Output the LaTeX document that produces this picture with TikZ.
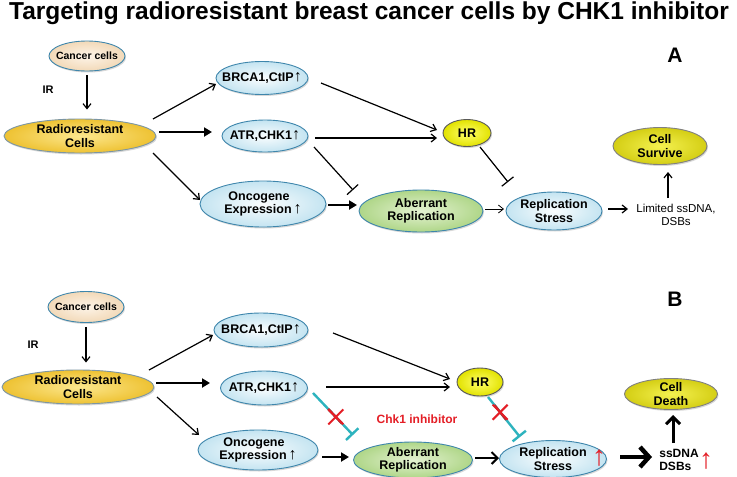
\documentclass[tikz,border=0pt]{standalone}
\usepackage{fontspec}
\setmainfont{Liberation Sans}
\usetikzlibrary{shapes.geometric,shapes.misc,arrows.meta,calc,shadows}

\definecolor{rimblue}{HTML}{3E86AC}
\definecolor{tealbar}{HTML}{2DB3BE}
\definecolor{xred}{HTML}{E41E26}
\definecolor{darkred}{HTML}{B8282C}
\definecolor{peachin}{HTML}{FDF4E8}
\definecolor{peachout}{HTML}{F2D9B8}
\definecolor{goldin}{HTML}{FCE78E}
\definecolor{goldout}{HTML}{EEC232}
\definecolor{palein}{HTML}{FAFDFE}
\definecolor{paleout}{HTML}{C4E4F1}
\definecolor{leafin}{HTML}{E4F2D2}
\definecolor{leafout}{HTML}{AFD688}
\definecolor{hrin}{HTML}{FFFF6A}
\definecolor{hrout}{HTML}{E2E200}
\definecolor{fatein}{HTML}{F4F150}
\definecolor{fateout}{HTML}{D4CE14}

\newcommand{\upmark}{{\mdseries\fontsize{16}{14}\selectfont ↑}}

\tikzset{
  oval/.style={ellipse, draw=rimblue, line width=0.9pt, inner xsep=-25pt, inner ysep=-10pt, align=center,
    font=\bfseries\fontsize{12.5}{13.5}\selectfont,
    drop shadow={shadow xshift=1pt, shadow yshift=-1.5pt, opacity=0.3}},
  ovalsize/.style 2 args={minimum width=#1pt, minimum height=#2pt},
  peach/.style={oval, inner color=peachin, outer color=peachout, font=\bfseries\fontsize{10.5}{12}\selectfont},
  gold/.style={oval, draw=rimblue!60!black!60, inner color=goldin, outer color=goldout},
  pale/.style={oval, inner color=palein, outer color=paleout},
  leaf/.style={oval, inner color=leafin, outer color=leafout},
  hrnode/.style={oval, draw=black!65, inner color=hrin, outer color=hrout},
  fate/.style={oval, draw=black!50, inner color=fatein, outer color=fateout},
  arr/.style={-{Straight Barb[length=5pt,width=8pt]}, line width=1.2pt},
  thinarr/.style={-{Straight Barb[length=5pt,width=8pt]}, line width=0.8pt},
  thickarr/.style={-{Triangle[length=8pt,width=9pt]}, line width=2.4pt},
  midarr/.style={-{Straight Barb[length=6pt,width=12pt]}, line width=2pt},
  fatearr/.style={-{Straight Barb[length=7pt,width=14pt]}, line width=3pt},
  blockarr/.style={-{Straight Barb[length=9pt,width=20pt]}, line width=4.5pt},
  tee/.style={-{Bar[width=15pt]}, line width=1.2pt},
  teeB/.style={-{Bar[width=17pt]}, draw=tealbar, line width=2.4pt},
  xmark/.style={cross out, draw=xred, line width=2pt, minimum size=13pt, inner sep=0pt},
  redup/.style={text=xred, font=\bfseries\fontsize{28}{28}\selectfont, inner sep=0pt},
  lbl/.style={font=\bfseries\fontsize{11}{11}\selectfont}
}

\begin{document}
\begin{tikzpicture}[x=1pt, y=-1pt]
\fill[white] (0,0) rectangle (737,477);
\useasboundingbox (0,0) rectangle (737,477);
\node[anchor=base, font=\bfseries\fontsize{24.5}{26}\selectfont] (title) at (369,19) {Targeting radioresistant breast cancer cells by CHK1 inhibitor};

% panel A
\node[peach, ovalsize={76}{30}] (canA) at (87,56) {Cancer cells};
\node[lbl] (irA) at (48,90) {IR};
\node[gold, ovalsize={152}{34}] (radA) at (80,136) {Radioresistant\\Cells};
\node[pale, ovalsize={92}{33}] (brcaA) at (262,78) {BRCA1,CtIP\upmark};
\node[pale, ovalsize={86}{32}] (atrA) at (265,136) {ATR,CHK1\upmark};
\node[pale, ovalsize={126}{46}] (oncA) at (263,204) {Oncogene\phantom{\upmark}\\Expression\,\upmark};
\node[leaf, ovalsize={124}{42}] (abA) at (421,211) {Aberrant\\Replication};
\node[pale, ovalsize={96}{38}] (rsA) at (554,211) {Replication\\Stress};
\node[hrnode, ovalsize={48}{27}] (hrA) at (467,133) {HR};
\node[fate, ovalsize={94}{37}] (survA) at (660,146) {Cell\\Survive};
\node[align=center, font=\fontsize{11.5}{13.5}\selectfont] (ssA) at (676,215) {Limited ssDNA,\\DSBs};
\node[font=\bfseries\fontsize{21}{21}\selectfont] (labA) at (675,55) {A};

\draw[arr, shorten <=4pt, shorten >=9pt] (canA.south) -- (canA.south |- radA.north); % IR
\draw[arr] ($(radA)+(73,-17)$) -- ($(brcaA)+(-46,6)$);
\draw[thickarr] ($(radA)+(79,-4)$) -- ($(atrA)+(-53,-4)$);
\draw[arr] ($(radA)+(73,17)$) -- ($(oncA)+(-63,-4)$);
\draw[arr] ($(brcaA)+(59,5)$) -- ($(hrA)+(-30,-3)$);
\draw[arr] ($(atrA)+(50,2)$) -- ($(hrA)+(-30,5)$);
\draw[tee] ($(atrA)+(49,11)$) -- ($(abA)+(-68,-21)$); % block
\draw[tee] ($(hrA)+(13,14)$) -- ($(rsA)+(-46,-29)$); % block
\draw[thickarr] ($(oncA)+(65,1)$) -- ($(abA)+(-64,-6)$);
\draw[thinarr] ($(abA)+(64,-2)$) -- ($(rsA)+(-50,-2)$);
\draw[arr] ($(rsA)+(54,-2)$) -- ($(ssA)+(-48,-6)$);
\draw[arr] ($(ssA)+(-8,-17)$) -- ($(survA)+(8,26)$);

% panel B
\node[peach, ovalsize={76}{31}] (canB) at (86,307) {Cancer cells};
\node[lbl] (irB) at (33,345) {IR};
\node[gold, ovalsize={152}{34}] (radB) at (78,387) {Radioresistant\\Cells};
\node[pale, ovalsize={94}{34}] (brcaB) at (261,330) {BRCA1,CtIP\upmark};
\node[pale, ovalsize={87}{34}] (atrB) at (264,388) {ATR,CHK1\upmark};
\node[pale, ovalsize={120}{40}] (oncB) at (258,450) {Oncogene\phantom{\upmark}\\Expression\,\upmark};
\node[leaf, ovalsize={119}{36}] (abB) at (413,460) {Aberrant\\Replication};
\node[pale, ovalsize={107}{37}] (rsB) at (553,459) {Replication\\Stress};
\node[redup] (rsUp) at (599,458) {↑};
\node[hrnode, ovalsize={46}{28}] (hrB) at (480,382) {HR};
\node[fate, ovalsize={93}{31}] (deathB) at (671,394) {Cell\\Death};
\node[align=left, font=\bfseries\fontsize{12}{13.5}\selectfont] (ssB) at (679,460) {ssDNA\\DSBs};
\node[redup] (ssUp) at (706,461) {↑};
\node[font=\bfseries\fontsize{21}{21}\selectfont] (labB) at (675,299) {B};
\node[text=xred, font=\bfseries\fontsize{12}{12}\selectfont] (inhib) at (417,419) {Chk1 inhibitor};

\draw[arr, shorten <=4pt, shorten >=7pt] (canB.south) -- (canB.south |- radB.north); % IR
\draw[arr] ($(radB)+(71,-17)$) -- ($(brcaB)+(-48,5)$);
\draw[thickarr] ($(radB)+(78,-4)$) -- ($(atrB)+(-54,-5)$);
\draw[arr] ($(radB)+(79,10)$) -- ($(oncB)+(-59,-15)$);
\draw[arr] ($(brcaB)+(72,3)$) -- ($(hrB)+(-30,-3)$);
\draw[arr] ($(atrB)+(62,-1)$) -- ($(hrB)+(-30,5)$);
\draw[teeB] ($(atrB)+(49,5)$) -- ($(abB)+(-60,-25)$) coordinate[pos=.38] (atrX1) coordinate[pos=.72] (atrX2) coordinate[pos=.57] (atrXc); % inhibited
\draw[darkred, line width=2.4pt] (atrX1) -- (atrX2);
\node[xmark] (atrX) at (atrXc) {};
\draw[teeB] ($(hrB)+(8,15)$) -- ($(rsB)+(-33,-22)$) coordinate[pos=.2] (hrX1) coordinate[pos=.57] (hrX2) coordinate[pos=.38] (hrXc); % inhibited
\draw[darkred, line width=2.4pt] (hrX1) -- (hrX2);
\node[xmark] (hrX) at (hrXc) {};
\draw[thickarr] ($(oncB)+(64,7)$) -- ($(abB)+(-64,-3)$);
\draw[midarr] ($(abB)+(62,-2)$) -- ($(rsB)+(-54,-1)$);
\draw[blockarr] ($(rsB)+(67,-2)$) -- ($(ssB)+(-27,-3)$);
\draw[fatearr] ($(ssB)+(-6,-17)$) -- ($(deathB)+(2,21)$);
\end{tikzpicture}
\end{document}
